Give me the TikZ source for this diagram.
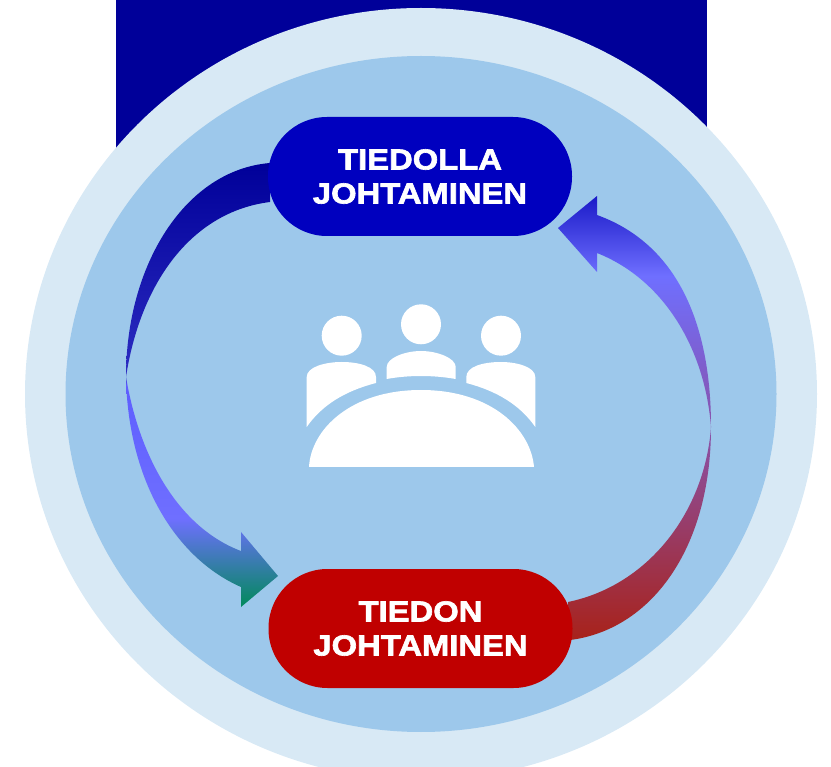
\documentclass[tikz,border=0pt]{standalone}
\usepackage{fontspec}
\setmainfont{Liberation Sans}[BoldFeatures={FakeBold=2.2,FakeStretch=1.13}]
\definecolor{darkblue}{HTML}{000099}
\definecolor{nodeblue}{HTML}{0000BF}
\definecolor{nodered}{HTML}{C00000}
\definecolor{ringlight}{HTML}{D8E9F5}
\definecolor{ringmid}{HTML}{9DC8EB}
\definecolor{arrowlight}{HTML}{6F6FFF}
\definecolor{arrowgreen}{HTML}{008A5A}
\definecolor{arrowbrown}{HTML}{A8221A}
\definecolor{arrowblue}{HTML}{1A1AC8}
\definecolor{arrowpurple}{HTML}{8C4FA0}
\pgfdeclareverticalshading{leftarrow}{100bp}{%
  color(0bp)=(arrowgreen);
  color(25bp)=(arrowgreen);
  color(35bp)=(arrowlight);
  color(50bp)=(arrowlight!85!blue);
  color(51bp)=(arrowlight!40!darkblue);
  color(75bp)=(darkblue);
  color(100bp)=(darkblue)}
\pgfdeclareverticalshading{rightarrow}{100bp}{%
  color(0bp)=(arrowbrown);
  color(25bp)=(arrowbrown);
  color(47bp)=(arrowpurple);
  color(66bp)=(arrowlight);
  color(75bp)=(arrowblue);
  color(100bp)=(arrowblue)}
\tikzset{
  phase/.style={minimum width=304pt,minimum height=119pt,rounded corners=59pt,
    inner sep=0pt,align=center,text=white,
    font=\fontsize{29}{34}\selectfont\bfseries},
}
\begin{document}
\begin{tikzpicture}[x=1pt,y=-1pt]
  \useasboundingbox (0,0) rectangle (831,767);
  \begin{scope}
    \clip (0,0) rectangle (831,767);
    \fill [darkblue] (116,0) rectangle (707,170);
    \fill [ringlight] (421,394) ellipse (396 and 386);
    \fill [ringmid] (421,394) ellipse (355.5 and 338);
  \end{scope}

  % left arrow
  \shade [shading=leftarrow] (270,163) .. controls (185,170) and (126,265) .. (126,377)
    .. controls (128,480) and (175,558) .. (241,587)
    -- (241,607) -- (278,576) -- (241,532) -- (241,551)
    .. controls (180,528) and (140,460) .. (126,377)
    .. controls (140,285) and (190,212) .. (270,202) -- cycle;
  % right arrow
  \shade [shading=rightarrow] (570,640) .. controls (650,630) and (711,550) .. (711,427)
    .. controls (711,328) and (680,245) .. (597,215)
    -- (597,196) -- (558,228) -- (597,272) -- (597,253)
    .. controls (665,280) and (705,350) .. (711,427)
    .. controls (705,510) and (650,585) .. (568,602) -- cycle;

  \node [phase,fill=nodeblue] (tiedolla) at (420,176.5) {TIEDOLLA\\JOHTAMINEN};
  \node [phase,fill=nodered] (tiedon) at (420.5,628.5) {TIEDON\\JOHTAMINEN};

  % people and table
  \fill [white] (341.7,335.7) circle (20);
  \fill [white] (421,324.3) circle (20);
  \fill [white] (501,335.7) circle (20);
  \fill [white] (309,467) .. controls (311,430) and (350,390) .. (421,390)
    .. controls (492,390) and (531,430) .. (534,467) -- cycle;
  \fill [white] (306.7,427) -- (306.7,377) .. controls (306.7,367) and (325,362) .. (341.7,362)
    .. controls (360,362) and (376,367) .. (376,377) -- (376,383)
    .. controls (345,391) and (322,405) .. cycle;
  \fill [white] (386.7,379) -- (386.7,367) .. controls (386.7,358) and (405,351) .. (421,351)
    .. controls (437,351) and (455.7,358) .. (455.7,367) -- (455.7,379)
    .. controls (433,375) and (409,375) .. cycle;
  \fill [white] (535.3,427) -- (535.3,377) .. controls (535.3,367) and (517,362) .. (501,362)
    .. controls (482,362) and (466.3,367) .. (466.3,377) -- (466.3,383)
    .. controls (497,391) and (520,405) .. cycle;
\end{tikzpicture}
\end{document}
